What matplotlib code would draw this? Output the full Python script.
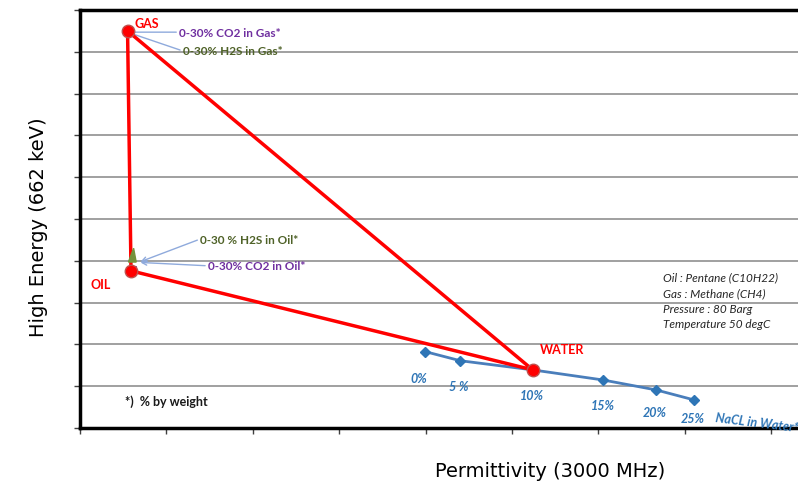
import matplotlib.pyplot as plt

# end members of the triangle (permittivity, high energy count)
phases = ['GAS', 'OIL', 'WATER']
phase_x = [0.55, 0.59, 5.24]
phase_y = [9.50, 3.76, 1.39]

# water line with increasing salinity
salt_labels = ['0%', '5 %', '10%', '15%', '20%', '25%']
salt_x = [3.99, 4.40, 5.24, 6.05, 6.67, 7.11]
salt_y = [1.83, 1.61, 1.39, 1.15, 0.91, 0.67]
# label offsets below each marker, in points
salt_dx = [-4, -1, -1, 0, -1, -1]
salt_dy = [-19, -18, -18, -18, -16, -13]

# small CO2 / H2S shifts next to the oil point
h2s_oil_x = [0.56, 0.62, 0.65]
h2s_oil_y = [3.97, 4.30, 3.97]
co2_oil_x = [0.58, 0.64]
co2_oil_y = [3.85, 3.85]

info = ['Oil : Pentane (C10H22)', 'Gas : Methane (CH4)',
        'Pressure : 80 Barg', 'Temperature 50 degC']

red = '#ff0000'
blue = '#2e75b6'
purple = '#7030a0'
olive = '#4f6228'
arrow_col = '#8faadc'

fig = plt.figure(figsize=(7.98, 4.89), dpi=100)
ax = fig.add_axes([0.1003, 0.1227, 0.8997, 0.8548])
ax.set_xlim(0, 8.31)
ax.set_ylim(0, 10)
ax.set_xticks(range(0, 9))
ax.set_yticks(range(0, 11))
ax.set_xticklabels([])
ax.set_yticklabels([])
ax.tick_params(length=4, width=1, color='#404040')
ax.grid(axis='y', color='#a0a0a0', lw=1.4)
ax.set_axisbelow(True)
for s in ['left', 'bottom', 'top']:
    ax.spines[s].set_linewidth(2.5)
ax.spines['right'].set_visible(False)

# salinity line
ax.plot(salt_x, salt_y, '-D', color='#4a7ebb', lw=2, mfc=blue, mec=blue, ms=5, zorder=3)
for lab, x, y, dx, dy in zip(salt_labels, salt_x, salt_y, salt_dx, salt_dy):
    ax.annotate(lab, (x, y), xytext=(dx, dy), textcoords='offset points',
                ha='center', va='center', color=blue, fontsize=9,
                fontweight='bold', style='italic', family='Lato')
ax.text(7.35, 0.14, 'NaCL in Water*', color=blue, fontsize=9, fontweight='bold',
        style='italic', family='Lato', rotation=-7, va='center')

# triangle gas - oil - water
tri_x = phase_x + [phase_x[0]]
tri_y = phase_y + [phase_y[0]]
ax.plot(tri_x, tri_y, color=red, lw=2.5, zorder=4)
ax.fill(h2s_oil_x, h2s_oil_y, color='#76923c', zorder=4)
ax.plot(co2_oil_x, co2_oil_y, color=purple, lw=2, zorder=4)
ax.plot(phase_x, phase_y, 'o', color=red, mec='#c0504d', ms=9, zorder=5)

ax.text(0.63, 9.69, 'GAS', color=red, fontsize=9, fontweight='bold', family='Lato', va='center')
ax.text(0.116, 3.44, 'OIL', color=red, fontsize=9, fontweight='bold', family='Lato', va='center')
ax.text(5.32, 1.89, 'WATER', color=red, fontsize=9, fontweight='bold', family='Lato', va='center')

# composition notes with pointers
notes = [
    ('0-30% CO2 in Gas*', purple, (1.146, 9.47), (0.62, 9.47), '-'),
    ('0-30% H2S in Gas*', olive, (1.19, 9.02), (0.62, 9.42), '-'),
    ('0-30 % H2S in Oil*', olive, (1.39, 4.52), (0.70, 3.98), '->'),
    ('0-30% CO2 in Oil*', purple, (1.48, 3.88), (0.70, 3.96), '->'),
]
for txt, col, pos, tip, style in notes:
    ax.annotate(txt, xy=tip, xytext=pos, color=col, fontsize=8.5, fontweight='bold',
                family='Lato', va='center', ha='left',
                arrowprops=dict(arrowstyle=style, color=arrow_col, lw=1,
                                shrinkA=0, shrinkB=0, relpos=(0, 0.5)))

for i, line in enumerate(info):
    ax.text(6.75, 3.61 - i * 0.37, line, fontsize=8.5, style='italic',
            family='Lato', color='#262626', va='center')

ax.text(0.52, 0.65, '*)  % by weight', fontsize=9, fontweight='bold', family='Lato',
        color='#1a1a1a', va='center')

fig.text(0.048, 0.535, 'High Energy (662 keV)', rotation=90, fontsize=14,
         ha='center', va='center')
fig.text(0.69, 0.035, 'Permittivity (3000 MHz)', fontsize=14, ha='center', va='center')

fig.savefig('out.png', dpi=100)
